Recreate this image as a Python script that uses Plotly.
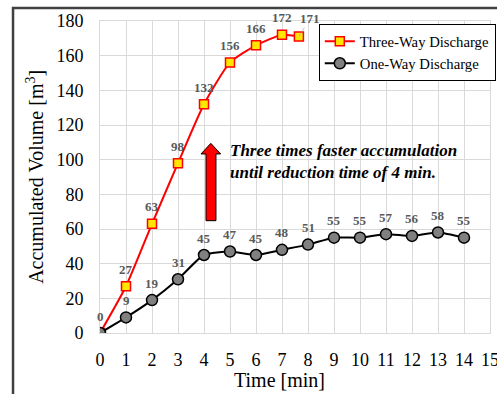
import plotly.graph_objects as go

# ---- data ----
three_x = [0, 1, 2, 3, 4, 5, 6, 7, 7.65]
three_y = [0, 27, 63, 98, 132, 156, 166, 172, 171]
one_x = [0, 1, 2, 3, 4, 5, 6, 7, 8, 9, 10, 11, 12, 13, 14]
one_y = [0, 9, 19, 31, 45, 47, 45, 48, 51, 55, 55, 57, 56, 58, 55]
x_ticks = list(range(0, 16))
y_ticks = list(range(0, 181, 20))

SERIF = "Liberation Serif, Times New Roman, serif"
LBL = "#595959"

fig = go.Figure()
fig.add_trace(go.Scatter(
    x=three_x, y=three_y, name="Three-Way Discharge", mode="lines+markers",
    line=dict(color="#ff0000", width=2, shape="spline", smoothing=0.6),
    marker=dict(symbol="square", size=9, color="#ffe600", line=dict(color="#ff0000", width=1.5)),
))
fig.add_trace(go.Scatter(
    x=one_x, y=one_y, name="One-Way Discharge", mode="lines+markers",
    line=dict(color="#000000", width=2, shape="spline", smoothing=0.6),
    marker=dict(symbol="circle", size=11, color="#808080", line=dict(color="#000000", width=1.5)),
))

annotations = []
# data labels
for i, (x, y) in enumerate(zip(three_x, three_y)):
    if i == len(three_x) - 1:
        annotations.append(dict(x=x, y=y, text=f"<b>{y}</b>", showarrow=True, arrowhead=0,
                                arrowwidth=0.7, arrowcolor="#a6a6a6", ax=11, ay=-18,
                                font=dict(family=SERIF, size=13, color=LBL)))
    else:
        annotations.append(dict(x=x, y=y, text=f"<b>{y}</b>", showarrow=False, yshift=17,
                                font=dict(family=SERIF, size=13, color=LBL)))
for i, (x, y) in enumerate(zip(one_x, one_y)):
    if i == 0:
        continue
    annotations.append(dict(x=x, y=y, text=f"<b>{y}</b>", showarrow=False, yshift=17,
                            font=dict(family=SERIF, size=13, color=LBL)))

# comment text
annotations.append(dict(
    x=4.92, y=98.7, xref="x", yref="y", xanchor="left", yanchor="middle", align="left",
    text="<b><i>Three times faster accumulation<br>until reduction time of 4 min.</i></b>",
    showarrow=False, font=dict(family=SERIF, size=17, color="#000000"),
))
# axis titles
annotations.append(dict(x=0.46, y=-0.152, xref="paper", yref="paper", xanchor="center", yanchor="middle",
                        text="Time [min]", showarrow=False, font=dict(family=SERIF, size=20, color="#000")))
annotations.append(dict(x=-0.167, y=0.5, xref="paper", yref="paper", xanchor="center", yanchor="middle",
                        text="Accumulated Volume [m<sup>3</sup>]", textangle=-90, showarrow=False,
                        font=dict(family=SERIF, size=20, color="#000")))

# arrow shape (data units)
bx0, bx1, hx0, hx1 = 4.077, 4.46, 3.885, 4.64
yb, yh, yt = 64.8, 103.3, 109.4
xm = (hx0 + hx1) / 2
arrow_path = (f"M {bx0} {yb} L {bx0} {yh} L {hx0} {yh} L {xm} {yt} L {hx1} {yh} "
              f"L {bx1} {yh} L {bx1} {yb} Z")
shapes = [
    dict(type="path", path=arrow_path, xref="x", yref="y", fillcolor="#ff0000",
         line=dict(color="#000000", width=1)),
    dict(type="rect", xref="paper", yref="paper", x0=-0.223, x1=1.2, y0=-0.4, y1=1.0417,
         line=dict(color="#404040", width=2.5), fillcolor="rgba(0,0,0,0)", layer="above"),
]

fig.update_layout(
    width=497, height=394,
    margin=dict(l=100, r=7, t=21, b=61, autoexpand=False),
    paper_bgcolor="white", plot_bgcolor="white",
    font=dict(family=SERIF, color="#000"),
    showlegend=True,
    legend=dict(x=0.561, y=0.99, xanchor="left", yanchor="top", itemwidth=30,
                bgcolor="white", bordercolor="#000000", borderwidth=1,
                font=dict(family=SERIF, size=14.7, color="#000"), tracegroupgap=2),
    annotations=annotations,
    shapes=shapes,
)
fig.update_xaxes(range=[0, 15], tickmode="array", tickvals=x_ticks, showgrid=True, automargin=False,
                 gridcolor="#d9d9d9", gridwidth=1, zeroline=False, showline=True, mirror=True,
                 linecolor="#d9d9d9", linewidth=1, ticks="", ticklabelstandoff=10,
                 ticklabeloverflow="allow",
                 tickfont=dict(family=SERIF, size=18, color="#000"))
fig.update_yaxes(range=[0, 180], tickmode="array", tickvals=y_ticks, showgrid=True, automargin=False,
                 gridcolor="#d9d9d9", gridwidth=1, zeroline=False, showline=True, mirror=True,
                 linecolor="#d9d9d9", linewidth=1, ticks="", ticklabelstandoff=12,
                 tickfont=dict(family=SERIF, size=18, color="#000"))

fig.write_html("out.html")
